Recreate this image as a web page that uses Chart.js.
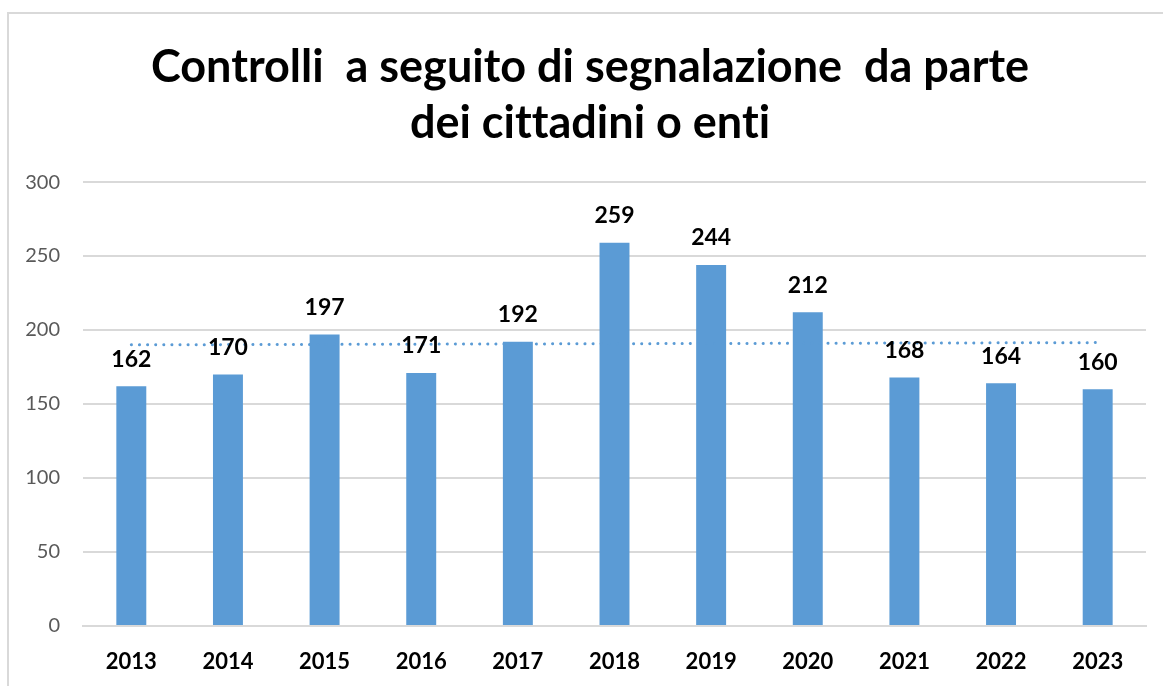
<!DOCTYPE html>
<html>
<head>
<meta charset="utf-8">
<script src="https://cdn.jsdelivr.net/npm/chart.js@4.4.1/dist/chart.umd.min.js"></script>
<style>
	html, body { margin: 0; padding: 0; background: #fff; }
	#wrap { position: relative; width: 1163px; height: 686px; overflow: hidden; }
	#frame { position: absolute; left: 7px; top: 12px; width: 1200px; height: 700px; border: 2px solid #d9d9d9; box-sizing: border-box; }
	canvas { position: absolute; left: 0; top: 0; }
</style>
</head>
<body>
<div id="wrap">
	<div id="frame"></div>
	<canvas id="chart" width="1163" height="686"></canvas>
</div>
<script>
const years = ['2013','2014','2015','2016','2017','2018','2019','2020','2021','2022','2023'];
const controlli = [162, 170, 197, 171, 192, 259, 244, 212, 168, 164, 160];
// trend line ends
const trendEnds = [190, null, null, null, null, null, null, null, null, null, 191.5];
const yTicks = [0, 50, 100, 150, 200, 250, 300];
const titleLines = ['Controlli  a seguito di segnalazione  da parte', 'dei cittadini o enti'];

const FONT = 'Lato, "Open Sans", sans-serif';
const BLUE = '#5b9bd5';

// no ligatures (Lato joins "tt"/"ti" otherwise)
const noLigatures = {
	id: 'noLigatures',
	beforeDraw(chart) { chart.ctx.textRendering = 'optimizeSpeed'; }
};

// title in the original sits a bit right of the canvas centre
const titleShift = {
	id: 'titleShift',
	afterLayout(chart) {
		if (chart.titleBlock) chart.titleBlock.left += 34;
	}
};

// Draw value labels above bars (no datalabels plugin here)
const barLabels = {
	id: 'barLabels',
	afterDatasetsDraw(chart) {
		const ctx = chart.ctx;
		const meta = chart.getDatasetMeta(1);
		ctx.save();
		ctx.font = 'bold 23px ' + FONT;
		ctx.fillStyle = '#000';
		ctx.textAlign = 'center';
		ctx.textBaseline = 'middle';
		meta.data.forEach((bar, i) => {
			ctx.fillText(String(controlli[i]), bar.x, bar.y - 27);
		});
		ctx.restore();
	}
};

new Chart(document.getElementById('chart'), {
	data: {
		labels: years,
		datasets: [{
			type: 'line',
			data: trendEnds,
			spanGaps: true,
			borderColor: BLUE,
			borderWidth: 3,
			borderDash: [0.1, 8],
			borderCapStyle: 'round',
			pointRadius: 0,
			fill: false,
			order: 0
		}, {
			type: 'bar',
			data: controlli,
			backgroundColor: BLUE,
			categoryPercentage: 1,
			barPercentage: 0.31,
			order: 1
		}]
	},
	options: {
		responsive: false,
		animation: false,
		layout: { padding: { left: 0, right: 17, top: 0, bottom: 0 } },
		plugins: {
			legend: { display: false },
			tooltip: { enabled: false },
			title: {
				display: true,
				text: titleLines,
				color: '#000',
				font: { family: FONT, size: 45, weight: 'bold', lineHeight: 1.245 },
				padding: { top: 39, bottom: 31 }
			}
		},
		scales: {
			x: {
				grid: { display: false },
				border: { color: '#d9d9d9', width: 2 },
				ticks: { color: '#000', font: { family: FONT, size: 22, weight: 'bold' }, padding: 15 },
				afterFit(scale) { scale.height = 60; }
			},
			y: {
				min: 0,
				max: 300,
				afterBuildTicks(scale) { scale.ticks = yTicks.map(v => ({ value: v })); },
				grid: { color: '#d9d9d9', lineWidth: 2, drawTicks: false },
				border: { display: false },
				ticks: { color: '#595959', font: { family: FONT, size: 20 }, padding: 23 },
				afterFit(scale) { scale.width = 83; }
			}
		}
	},
	plugins: [noLigatures, titleShift, barLabels]
});
</script>
</body>
</html>
